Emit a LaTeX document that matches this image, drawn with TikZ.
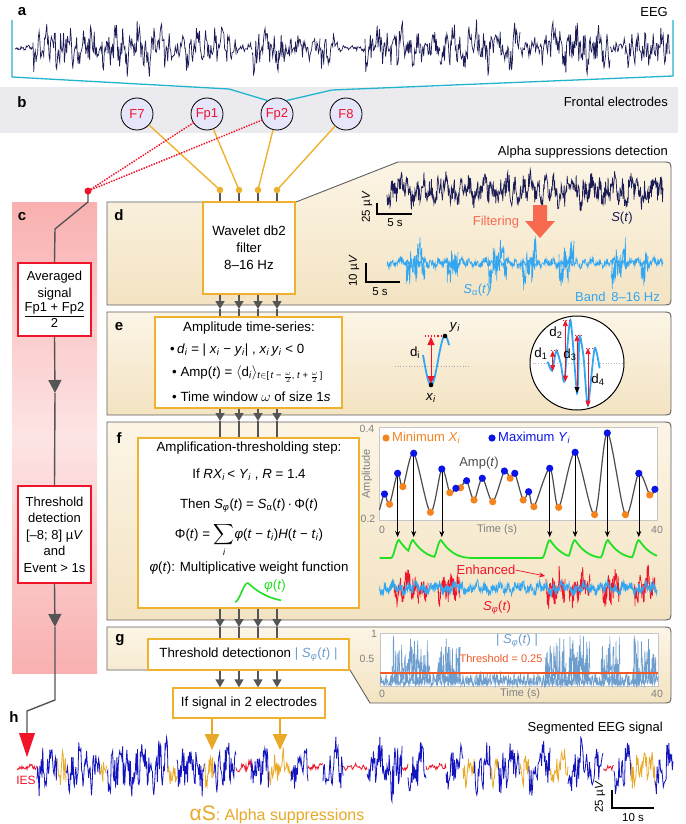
\documentclass[tikz,border=0pt]{standalone}
\usepackage{fontspec}
\setmainfont{Liberation Sans}
\usepackage{amsmath}
\usetikzlibrary{arrows.meta,fadings}
\definecolor{navy}{HTML}{1B1B55}
\definecolor{cyanB}{HTML}{22B4CC}
\definecolor{orng}{HTML}{F0B12E}
\definecolor{dgray}{HTML}{555555}
\definecolor{lav}{HTML}{E6E6FA}
\definecolor{ered}{HTML}{F0142A}
\definecolor{tanL}{HTML}{FCF5E6}
\definecolor{tanD}{HTML}{F3E3C2}
\definecolor{pinkD}{HTML}{F9B0B0}
\definecolor{pinkL}{HTML}{FDE4E4}
\definecolor{lblue}{HTML}{33A6F2}
\definecolor{salmon}{HTML}{F86A50}
\definecolor{sblue}{HTML}{6E9ECE}
\definecolor{gbright}{HTML}{22E022}
\definecolor{dblue}{HTML}{1414BE}
\definecolor{gold}{HTML}{E9A825}
\definecolor{mkblue}{HTML}{0A14E6}
\definecolor{mkorng}{HTML}{F5841F}
\definecolor{thr}{HTML}{F05A28}
\definecolor{axg}{HTML}{808080}
\definecolor{bandg}{HTML}{EBEBEF}
\tikzfading[name=fadeLR, left color=transparent!100, middle color=transparent!0, right color=transparent!100]
\newcommand{\eegseg}[6]{%
  \pgfmathtruncatemacro{\nsmp}{(#2-#1)*#6+2}%
  \draw[#5] plot[domain=#1:#2, samples=\nsmp, variable=\t] (\t,{#3+#4*(0.55*rand+0.3*sin(47*(\t-#1))+0.25*sin(17*(\t-#1)+30))});}
\newcommand{\absseg}[6]{%
  \pgfmathtruncatemacro{\nsmp}{(#2-#1)*#6+2}%
  \draw[#5] plot[domain=#1:#2, samples=\nsmp, variable=\t] (\t,{#3-#4*abs(0.6*rand+0.4*sin(53*(\t-#1)))});}
\newcommand{\vv}[2]{\textit{#1}\textsubscript{\textit{#2}}}
\begin{document}
\begin{tikzpicture}[x=1pt,y=-1pt,
  declare function={
    rse(\u)=0.5*(1+cos(180*min(max(\u,-8),0)/8));
    dcy(\u)=1-min(max(\u,0),36)/36;
    bmp(\u)=rse(\u)*dcy(\u)*dcy(\u)*dcy(\u);},
  lab/.style={font=\fontsize{15}{18}\selectfont\bfseries, inner sep=0},
  txt/.style={font=\fontsize{13}{15}\selectfont, inner sep=0},
  btxt/.style={font=\fontsize{13.3}{15}\selectfont, inner sep=0},
  axl/.style={font=\fontsize{10.5}{12}\selectfont, inner sep=0, text=axg},
  obox/.style={draw=orng, line width=1.3, fill=white, inner sep=0},
  rbox/.style={draw=ered, line width=1.2, fill=white, inner sep=0, align=center, font=\fontsize{13}{16.5}\selectfont},
  elec/.style={circle, draw=black, line width=0.8, fill=lav, minimum size=32, inner sep=0, text=ered, font=\fontsize{13}{15}\selectfont},
  gl/.style={draw=dgray, line width=1.4},
  garrow/.style={gl, -{Triangle[width=9,length=8]}},
  bigarrow/.style={gl, -{Triangle[width=13,length=13]}},
  oline/.style={draw=orng, line width=1.4},
  rdot/.style={draw=ered, line width=2, dash pattern=on 0.1pt off 2.6pt, line cap=round},
  panel/.style={draw=gray!75!black, line width=0.9, top color=tanL, bottom color=tanD},
]
\useasboundingbox (0,0) rectangle (685,824);
\fill[white] (0,0) rectangle (685,824);
% ---------------- a : EEG
\node[lab] (la) at (22,12) {a};
\node[txt, anchor=east] (teeg) at (668,12) {EEG};
\fill[bandg] (0,87) rectangle (678,133);
\foreach \a/\b/\m in {15/33/3, 33/95/28, 95/102/10, 102/170/28, 170/185/12, 185/236/28, 236/252/5, 252/285/26, 285/320/14, 320/338/22, 338/365/4, 365/420/28, 420/440/18, 440/520/28, 520/540/12, 540/610/26, 610/625/10, 625/670/25}
  {\eegseg{\a}{\b}{48}{\m}{navy, line width=0.7}{1.3}}
% ---------------- b : electrodes
\node[lab] (lb) at (22,102) {b};
\node[txt, anchor=east] (tfe) at (668,102) {Frontal electrodes};
\node[elec] (F7) at (137,114) {F7};
\node[elec] (Fp1) at (207,114) {Fp1};
\node[elec] (Fp2) at (277,114) {Fp2};
\node[elec] (F8) at (346,114) {F8};
\draw[cyanB, line width=1.3] (12,20) -- (12,77) -- (229,89) -- (Fp2.125);
\draw[cyanB, line width=1.3] (673,20) -- (673,76) -- (332,90) -- (Fp2.55);
\node[txt, anchor=east] (tasd) at (668,152) {Alpha suppressions detection};
% ---------------- panels
\shade[top color=pinkD, bottom color=pinkD, middle color=pinkL] (12,202) rectangle (97,673);
\path[panel] (107,202) -- (296,202) -- (398,162) -- (662,162) .. controls (671,162) .. (671,171) -- (671,296) .. controls (671,305) .. (662,305) -- (107,305) -- cycle;
\path[panel] (107,312) -- (662,312) .. controls (671,312) .. (671,321) -- (671,406) .. controls (671,415) .. (662,415) -- (107,415) -- cycle;
\path[panel] (107,422) -- (662,422) .. controls (671,422) .. (671,431) -- (671,611) .. controls (671,620) .. (662,620) -- (107,620) -- cycle;
\path[panel] (107,627) -- (662,627) .. controls (671,627) .. (671,636) -- (671,694) .. controls (671,703) .. (662,703) -- (370,703) -- (350,670) -- (107,670) -- cycle;
\node[lab] (lc) at (22,217) {c};
\node[lab] (ld) at (119,215) {d};
\node[lab] (le) at (119,327) {e};
\node[lab] (lf) at (119,438) {f};
\node[lab] (lg) at (120,640) {g};
\node[lab] (lh) at (14,717) {h};
% ---------------- boxes
\node[obox, minimum width=92, minimum height=92, align=center, font=\fontsize{13.3}{17}\selectfont] (wav) at (249,248) {Wavelet db2\\filter\\8--16 Hz};
\node[obox, minimum width=187, minimum height=91] (ampb) at (248.5,362.5) {};
\node[obox, minimum width=221, minimum height=170] (fbox) at (248.5,523) {};
\node[obox, minimum width=201, minimum height=31, btxt] (gbox) at (248.5,654.5) {Threshold detectionon \textcolor{sblue}{| \vv{S}{φ}(\textit{t}) |}};
\node[obox, minimum width=152, minimum height=30, btxt] (sbox) at (249,703) {If signal in 2 electrodes};
\node[rbox, minimum width=73, minimum height=73] (avg) at (54.5,299.5) {Averaged\\signal\\[1pt]$\dfrac{\mbox{Fp1 + Fp2}}{\mbox{2}}$};
\node[rbox, minimum width=73, minimum height=97] (thr) at (54.5,534.5) {Threshold\\detection\\{[}--8; 8{]} µ\textit{V}\\and\\Event > 1s};
% ---------------- connectors
\coordinate (k1) at (220,0); \coordinate (k2) at (239,0); \coordinate (k3) at (258,0); \coordinate (k4) at (277,0);
\coordinate (dl) at (0,190); \coordinate (ya) at (0,309); \coordinate (yb) at (0,421); \coordinate (yc) at (0,627);
\draw[oline] (F7) -- (k1 |- dl);
\draw[oline] (Fp1) -- (k2 |- dl);
\draw[oline] (Fp2) -- (k3 |- dl);
\draw[oline] (F8) -- (k4 |- dl);
\foreach \k in {k1,k2,k3,k4}{
  \draw[gl] (\k |- dl) -- (wav.north -| \k);
  \fill[orng] (\k |- dl) circle (3.3);
  \draw[garrow] (wav.south -| \k) -- (\k |- ya); \draw[gl] (\k |- ya) -- (ampb.north -| \k);
  \draw[garrow] (ampb.south -| \k) -- (\k |- yb); \draw[gl] (\k |- yb) -- (fbox.north -| \k);
  \draw[garrow] (fbox.south -| \k) -- (\k |- yc); \draw[gl] (\k |- yc) -- (gbox.north -| \k);
  \draw[garrow] (gbox.south -| \k) -- (sbox.north -| \k);
}
\coordinate (rd) at (88,191);
\draw[rdot] (Fp1) -- (rd);
\draw[rdot] (Fp2) -- (rd);
\draw[gl] (rd) -- (88,202) -- (55,229) -- (avg.north);
\fill[ered] (rd) circle (3.5);
\draw[bigarrow] (avg.south) -- (55,393); \draw[gl] (55,393) -- (thr.north);
\draw[bigarrow] (thr.south) -- (55,627);
\draw[gl] (55,627) -- (55,700) -- (27,711) -- (27,734);
\fill[ered] (19,733) -- (35,733) -- (27,757) -- cycle;
% ---------------- d callout
\eegseg{387}{663}{190}{20}{navy, line width=0.7}{2}
\draw[line width=1.2] (377,203) -- (377,214) -- (412,214);
\node[axl, text=black, rotate=90, font=\fontsize{11.5}{13}\selectfont] (sb1) at (367,207) {25 µ\textit{V}};
\node[txt, font=\fontsize{11.5}{13}\selectfont] (sb2) at (395,223) {5 s};
\node[txt, text=navy] (st) at (622,218) {\textit{S}(\textit{t})};
\node[txt, text=salmon] (tfilt) at (496,222) {Filtering};
\fill[salmon] (533,205) -- (547,205) -- (547,221) -- (555,221) -- (540,238) -- (525,221) -- (533,221) -- cycle;
\eegseg{387}{663}{263}{6}{lblue, line width=0.6}{3}
\foreach \a/\b in {406/425, 447/458, 488/507, 522/537, 559/574, 611/626, 641/648}
  {\eegseg{\a}{\b}{263}{26}{lblue, line width=0.6}{3}}
\draw[line width=1.2] (366,263) -- (366,282) -- (400,282);
\node[txt, rotate=90, font=\fontsize{11.5}{13}\selectfont] (sb3) at (354,271) {10 µ\textit{V}};
\node[txt, font=\fontsize{11.5}{13}\selectfont] (sb4) at (380,292) {5 s};
\node[txt, text=lblue] (sat) at (477,290) {\textit{S}\textsubscript{α}(\textit{t})};
\node[txt, text=lblue, anchor=east] (band) at (660,297) {Band\, 8--16 Hz};
% ---------------- e texts
\node[btxt] (e1) at (249,328) {Amplitude time-series:};
\node[btxt, anchor=west] (e2) at (170,350) {•\,\vv{d}{i} = | \vv{x}{i} − \vv{y}{i}| , \vv{x}{i}\,\vv{y}{i} < 0};
\node[btxt, anchor=west] (e3) at (172,374) {• Amp(\textit{t}) = $\langle$d\textsubscript{\textit{i}}$\rangle$\textsubscript{\textit{t}$\in$[\,\textit{t} − $\frac{\omega}{2}$, \textit{t} + $\frac{\omega}{2}$\,]}};
\node[btxt, anchor=west] (e4) at (172,397) {• Time window $\omega$ of size 1\textit{s}};
% e wave diagram
\draw[gray!70, dotted, line width=0.7] (395,366) -- (469,366);
\draw[lblue, line width=1.8] plot[domain=423:449, samples=40, variable=\t] (\t,{360.5+24.5*cos(360*(\t-431)/28)});
\draw[ered, dotted, line width=1.1] (425,336) -- (445,336);
\draw[ered, line width=0.8, {Triangle[width=7,length=8]}-{Triangle[width=7,length=8]}] (431,337) -- (431,384);
\fill (431,385) circle (2.3);
\fill (445,336) circle (2.3);
\node[btxt] (ldi) at (415,353) {d\textsubscript{i}};
\node[btxt] (lyi) at (455,327) {\vv{y}{i}};
\node[btxt] (lxi) at (431,398) {\vv{x}{i}};
\node[circle, draw, line width=1, fill=white, minimum size=94, inner sep=0] (zc) at (577,363) {};
\begin{scope}
  \clip (577,363) circle (46.5);
  \draw[gray!60, dotted, line width=0.7] (530,363) -- (624,363);
  \draw[lblue, line width=1.8] plot[smooth, tension=0.4] coordinates {(547.7,361.7) (552,370.7) (556.4,350.7) (561,365) (564.4,380.7) (570.4,320) (577.1,393.3) (579.5,336.7) (583.5,356.7) (587.9,405) (594.6,348.3) (599.6,368.3)};
  \foreach \xx/\ya/\yb in {552.7/350.7/371, 565.4/320/381.7, 588/348/406.7}{
    \draw[ered, dotted, line width=1] (\xx-2,\ya) -- (\xx+7,\ya);
    \draw[ered, line width=0.7, {Triangle[width=5,length=6]}-{Triangle[width=5,length=6]}] (\xx,\ya) -- (\xx,\yb);
  }
  \draw[ered, dotted, line width=1] (575,335) -- (584,335);
  \draw[ered, line width=0.7, {Triangle[width=5,length=6]}-{Triangle[width=5,length=6,black]}] (577,335) -- (577,393);
\end{scope}
\node[btxt] (d1) at (541,354) {d\textsubscript{1}};
\node[btxt] (d2) at (556,333) {d\textsubscript{2}};
\node[btxt] (d3) at (570,355) {d\textsubscript{3}};
\node[btxt] (d4) at (598,380) {d\textsubscript{4}};
% ---------------- f texts
\node[btxt] (f1) at (249,448) {Amplification-thresholding step:};
\node[btxt] (f2) at (249,475) {If \textit{RX}\textsubscript{\textit{i}}\,< \vv{Y}{i} , \textit{R} = 1.4};
\node[btxt] (f3) at (249,506) {Then \vv{S}{φ}(\textit{t}) = \textit{S}\textsubscript{α}(\textit{t})\,·\,Φ(\textit{t})};
\node[btxt] (f4) at (249,540) {Φ(\textit{t}) = $\displaystyle\sum_{\mbox{\fontsize{9}{10}\selectfont\textit{i}}}$\textit{φ}(\textit{t} − \vv{t}{i})\textit{H}(\textit{t} − \vv{t}{i})};
\node[btxt] (f5) at (249,568) {\textit{φ}(\textit{t}): Multiplicative weight function};
\draw[gbright, line width=1.6] plot[domain=235:281, samples=60, variable=\t] (\t,{602-19*bmp((\t-248)*0.6)});
\node[btxt, text=gbright] (fphi) at (275,586) {\textit{φ}(\textit{t})};
% f plot
\fill[white] (379.5,427) rectangle (657.5,520);
\draw[gray!45, line width=0.5] (379.5,427) rectangle (657.5,520);
\node[axl] (a04) at (367,429) {0.4};
\node[axl] (a02) at (368,519) {0.2};
\node[axl, rotate=90, font=\fontsize{11}{13}\selectfont] (aamp) at (367,474) {Amplitude};
\node[axl] (ax0) at (382,530) {0};
\node[axl] (ax40) at (657,530) {40};
\node[axl, font=\fontsize{11}{13}\selectfont] (axt) at (497,530) {Time (s)};
\foreach \xx/\yy in {397.6/473.3, 413.7/453.3, 441.8/469, 549.7/468.3, 575.1/452.3, 607.3/433, 638.8/473.3}
  \draw[line width=0.6, -{Stealth[length=6,width=5]}] (\xx,\yy) -- (\xx,537);
\draw[gray!60!black, line width=1.2] plot[smooth, tension=0.5] coordinates {(379.5,510) (384.5,494) (389.5,504.3) (397.6,473.3) (402.9,486.7) (413.7,453.3) (430.4,512.3) (441.8,469) (449.8,492.7) (455.9,488.3) (460.6,487.7) (466.6,480.7) (474,500) (482.3,478.3) (492.7,501.7) (504.4,471) (510.1,478.3) (514.8,473.3) (523.2,500) (528.6,491.7) (533.9,506.7) (549.7,468.3) (558.7,507.3) (575.1,452.3) (594.6,514.7) (607.3,433) (625.4,514.7) (638.8,473.3) (649.8,495) (654.9,489.3)};
\foreach \xx/\yy in {389.5/504.3, 402.9/486.7, 430.4/512.3, 449.8/492.7, 460.6/487.7, 474/500, 492.7/501.7, 510.1/478.3, 523.2/500, 533.9/506.7, 558.7/507.3, 594.6/514.7, 625.4/514.7, 649.8/495}
  \fill[mkorng] (\xx,\yy) circle (3.6);
\foreach \xx/\yy in {384.5/494, 397.6/473.3, 413.7/453.3, 441.8/469, 455.9/488.3, 466.6/480.7, 482.3/478.3, 504.4/471, 514.8/473.3, 528.6/491.7, 549.7/468.3, 575.1/452.3, 607.3/433, 638.8/473.3, 654.9/489.3}
  \fill[mkblue] (\xx,\yy) circle (3.6);
\node[txt, text=gray!60!black] (lamp) at (479,463) {Amp(\textit{t})};
\fill[mkorng] (386,438) circle (3.6);
\node[txt, text=mkorng, anchor=west] (lgo) at (392,438) {Minimum \vv{X}{i}};
\fill[mkblue] (492,438) circle (3.6);
\node[txt, text=mkblue, anchor=west] (lgb) at (498,438) {Maximum \vv{Y}{i}};
% green shading and curve
\foreach \a/\b in {390/430, 434/462, 541/566, 565/589, 598/621, 630/658}
  \fill[green!80, opacity=0.45, path fading=fadeLR] (\a,541) rectangle (\b,617);
\draw[gbright, line width=1.8] plot[domain=379.5:657, samples=300, variable=\t] (\t,{558-18*max(bmp(\t-399),bmp(\t-413),bmp(\t-441),bmp(\t-550),bmp(\t-575),bmp(\t-608),bmp(\t-639))});
\foreach \a/\b in {394/428, 438/460, 546/565, 569/590, 602/620, 634/655}
  {\eegseg{\a}{\b}{588}{22}{ered, line width=0.7}{3}}
\eegseg{379.5}{657}{588}{8}{lblue, line width=0.7}{3}
\node[txt, text=ered] (tenh) at (486,570) {Enhanced};
\draw[ered, line width=0.7, -{Stealth[length=6,width=5]}] (tenh.east) -- (545,576);
\node[txt, text=ered] (tsphi) at (497,608) {\vv{S}{φ}(\textit{t})};
% ---------------- g plot
\fill[white] (380,633) rectangle (658,686);
\draw[gray!45, line width=0.5] (380,633) rectangle (658,686);
\absseg{380}{658}{686}{15}{sblue, line width=0.6}{3}
\foreach \a/\b in {392/430, 437/460, 545/566, 568/590, 601/620, 633/656}
  {\absseg{\a}{\b}{686}{52}{sblue, line width=0.6}{3}}
\draw[thr, line width=1.2] (380,673) -- (658,673);
\node[txt, text=thr, font=\fontsize{11}{13}\selectfont] (tthr) at (501,659) {Threshold = 0.25};
\node[txt, text=sblue] (tabs) at (517,641) {| \vv{S}{φ}(\textit{t}) |};
\node[axl] (g1) at (374,634) {1};
\node[axl] (g05) at (367,659) {0.5};
\node[axl] (g0) at (382,694) {0};
\node[axl, font=\fontsize{11}{13}\selectfont] (gt) at (520,694) {Time (s)};
\node[axl] (g40) at (657,694) {40};
% ---------------- h segmented EEG
\node[txt, anchor=east] (tseg) at (663,728) {Segmented EEG signal};
\foreach \a/\b/\cc/\m in {17/37/ered/4, 37/57/dblue/30, 57/66/gold/26, 66/100/dblue/30, 100/107/gold/22, 107/168/dblue/32, 168/177/gold/24, 177/205/dblue/30, 205/214/gold/26, 214/236/dblue/30, 236/251/ered/6, 251/269/dblue/30, 269/291/gold/20, 291/308/dblue/30, 308/323/ered/4, 323/343/dblue/30, 343/367/ered/4, 367/402/dblue/32, 402/408/ered/5, 408/426/dblue/28, 426/446/ered/5, 446/463/dblue/30, 463/474/gold/24, 474/491/dblue/30, 491/498/gold/20, 498/520/dblue/28, 520/529/gold/22, 529/550/dblue/30, 550/568/gold/20, 568/603/dblue/30, 603/614/ered/4, 614/631/dblue/30, 631/655/gold/22, 655/673/dblue/28}
  {\eegseg{\a}{\b}{767}{\m}{color=\cc, line width=0.8}{1.4}}
\draw[gold, line width=2.2, -{Triangle[width=14,length=16]}] (sbox.south -| 212,0) -- (212,750);
\draw[gold, line width=2.2, -{Triangle[width=14,length=16]}] (sbox.south -| 280,0) -- (280,750);
\node[txt, text=ered, font=\fontsize{12}{14}\selectfont] (ties) at (26,780) {IES};
\node[txt, text=gold, font=\fontsize{16}{19}\selectfont] (tas) at (277,815) {{\fontsize{21}{24}\selectfont αS}: Alpha suppressions};
\draw[line width=1.3] (612,790) -- (612,808) -- (654,808);
\node[txt, rotate=90, font=\fontsize{11.5}{13}\selectfont] (sb5) at (600,797) {25 µ\textit{V}};
\node[txt, font=\fontsize{11.5}{13}\selectfont] (sb6) at (633,818) {10 s};
\end{tikzpicture}
\end{document}
